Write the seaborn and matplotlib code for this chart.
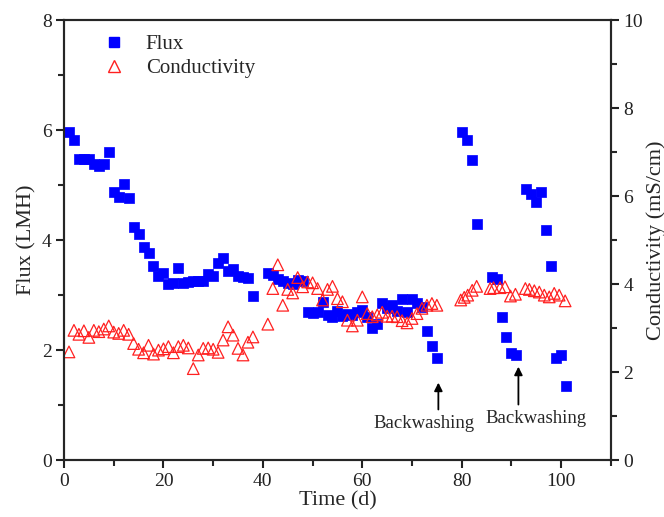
import numpy as np
import pandas as pd
import matplotlib
matplotlib.use("Agg")
import matplotlib.pyplot as plt
from matplotlib.ticker import MultipleLocator
from matplotlib.lines import Line2D
import seaborn as sns

# Flux readings (LMH)
flux_time = [1, 2, 3, 4, 5, 6, 7, 8, 9, 10, 11, 12, 13, 14, 15, 16, 17, 18, 19, 20,
             21, 22, 23, 24, 25, 26, 27, 28, 29, 30, 31, 32, 33, 34, 35, 36, 37, 38,
             41, 42, 43, 44, 45, 46, 47, 48,
             49, 50, 51, 52, 53, 54, 55, 56, 57, 58, 59, 60, 61, 62, 63, 64, 65, 66,
             67, 68, 69, 70, 71, 72, 73, 74, 75,
             80, 81, 82, 83,
             86, 87, 88, 89, 90, 91, 93, 94, 95, 96, 97, 98, 99, 100, 101]
flux = [5.96, 5.83, 5.47, 5.47, 5.47, 5.38, 5.35, 5.39, 5.61, 4.87, 4.78, 5.02, 4.76,
        4.24, 4.11, 3.87, 3.76, 3.53, 3.35, 3.41, 3.20, 3.22, 3.50, 3.22, 3.24, 3.25,
        3.25, 3.26, 3.38, 3.35, 3.58, 3.67, 3.44, 3.47, 3.35, 3.33, 3.32, 2.99,
        3.41, 3.36, 3.30, 3.25, 3.22, 3.21, 3.27, 3.26,
        2.70, 2.68, 2.70, 2.88, 2.64, 2.61, 2.72, 2.62, 2.65, 2.64, 2.70, 2.73, 2.61,
        2.41, 2.48, 2.85, 2.76, 2.82, 2.71, 2.93, 2.70, 2.93, 2.86, 2.78, 2.35, 2.08, 1.85,
        5.96, 5.83, 5.45, 4.30,
        3.33, 3.30, 2.61, 2.24, 1.95, 1.92, 4.93, 4.84, 4.70, 4.88, 4.18, 3.53,
        1.85, 1.91, 1.35]

# Conductivity readings (mS/cm)
cond_time = [1, 2, 3, 4, 5, 6, 7, 8, 9, 10, 11, 12, 13, 14, 15, 16, 17, 18, 19, 20,
             21, 22, 23, 24, 25, 26, 27, 28, 29, 30, 31, 32, 33, 34, 35, 36, 37, 38,
             41, 42, 43, 44, 45, 46, 47, 48, 49, 50, 51, 52, 53, 54, 55, 56, 57, 58,
             59, 60, 61, 62, 63, 64, 65, 66, 67, 68, 69, 70, 71, 72, 73, 74, 75,
             79.8, 80.5, 81.2, 82.1, 83.0,
             85.7, 86.4, 87.7, 88.7, 89.8, 90.8, 92.8, 93.6, 94.6, 95.6, 96.6, 97.6,
             98.6, 99.6, 100.8]
cond = [2.46, 2.95, 2.86, 2.94, 2.79, 2.95, 2.92, 2.98, 3.05, 2.91, 2.88, 2.95, 2.86,
        2.65, 2.52, 2.44, 2.61, 2.41, 2.50, 2.53, 2.58, 2.44, 2.58, 2.61, 2.55, 2.08,
        2.39, 2.54, 2.55, 2.52, 2.45, 2.73, 3.03, 2.84, 2.54, 2.39, 2.68, 2.80,
        3.09, 3.90, 4.44, 3.52, 3.88, 3.80, 4.15, 3.94, 4.05, 4.03, 3.90, 3.64, 3.88,
        3.95, 3.67, 3.60, 3.18, 3.05, 3.18, 3.71, 3.33, 3.26, 3.30, 3.36, 3.27, 3.27,
        3.26, 3.17, 3.12, 3.22, 3.33, 3.45, 3.52, 3.56, 3.52,
        3.64, 3.70, 3.75, 3.86, 3.95,
        3.90, 3.92, 3.92, 3.94, 3.73, 3.77, 3.90, 3.88, 3.85, 3.82, 3.75, 3.71,
        3.79, 3.75, 3.62]

flux_df = pd.DataFrame({"Time": flux_time, "Flux": flux})
cond_df = pd.DataFrame({"Time": cond_time, "Conductivity": cond})

sns.set_style("ticks")
plt.rcParams["font.family"] = ["Liberation Serif", "DejaVu Serif"]
plt.rcParams["axes.linewidth"] = 1.5

fig = plt.figure(figsize=(6.64, 5.17), dpi=100)
ax = fig.add_axes([0.0964, 0.110, 0.8236, 0.851])
ax2 = ax.twinx()

sns.scatterplot(data=flux_df, x="Time", y="Flux", ax=ax, marker="s", s=50,
                color="#0000FF", edgecolor="#0000FF", linewidth=0.5, zorder=3)
sns.scatterplot(data=cond_df, x="Time", y="Conductivity", ax=ax2, marker="^", s=70,
                facecolor="none", edgecolor="#FF2020", linewidth=0.9, zorder=2)

ax.set_xlim(0, 110)
ax.set_ylim(0, 8)
ax2.set_ylim(0, 10)

ax.xaxis.set_major_locator(MultipleLocator(20))
ax.xaxis.set_minor_locator(MultipleLocator(10))
ax.yaxis.set_major_locator(MultipleLocator(2))
ax.yaxis.set_minor_locator(MultipleLocator(1))
ax2.yaxis.set_major_locator(MultipleLocator(2))
ax2.yaxis.set_minor_locator(MultipleLocator(1))

for a in (ax, ax2):
    a.tick_params(which="major", direction="out", length=6, width=1.5, labelsize=14,
                  colors="#222222", pad=3)
    a.tick_params(which="minor", direction="out", length=4, width=1.5)
    for sp in a.spines.values():
        sp.set_visible(True)
        sp.set_linewidth(1.5)

ax.set_xlabel("Time (d)", fontsize=16, labelpad=1)
ax.set_ylabel("Flux (LMH)", fontsize=16, labelpad=4)
ax2.set_ylabel("Conductivity (mS/cm)", fontsize=16, labelpad=2)

# backwashing annotations
ax.annotate("", xy=(75.3, 1.46), xytext=(75.3, 0.87),
            arrowprops=dict(arrowstyle="-|>", color="black", lw=1.3, mutation_scale=12))
ax.annotate("", xy=(91.4, 1.75), xytext=(91.4, 0.96),
            arrowprops=dict(arrowstyle="-|>", color="black", lw=1.3, mutation_scale=12))
ax.text(72.5, 0.67, "Backwashing", fontsize=13.5, ha="center", va="center")
ax.text(95.0, 0.76, "Backwashing", fontsize=13.5, ha="center", va="center")

handles = [
    Line2D([], [], marker="s", linestyle="none", color="#0000FF", markersize=7),
    Line2D([], [], marker="^", linestyle="none", markerfacecolor="none",
           markeredgecolor="#FF2020", markersize=8),
]
ax.legend(handles, ["Flux", "Conductivity"], loc="upper left", frameon=False,
          fontsize=15, bbox_to_anchor=(0.035, 1.01), handlelength=1.2,
          handletextpad=0.9, labelspacing=0.2)

fig.savefig("out.png", dpi=100)
